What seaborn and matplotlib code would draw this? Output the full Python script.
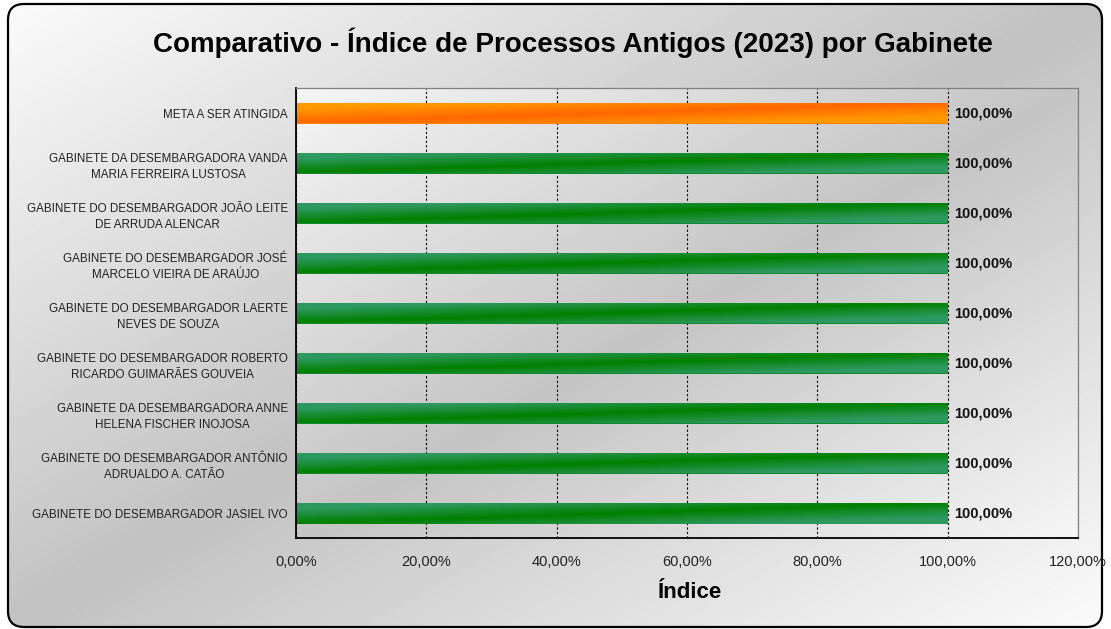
import numpy as np
import pandas as pd
import matplotlib
matplotlib.use("Agg")
import matplotlib.pyplot as plt
from matplotlib.patches import FancyBboxPatch
from matplotlib.ticker import FixedLocator
import seaborn as sns

# ── Data ─────────────────────────────────────────────────────────────────────
categories = [
    "META A SER ATINGIDA",
    "GABINETE DA DESEMBARGADORA VANDA\nMARIA FERREIRA LUSTOSA",
    "GABINETE DO DESEMBARGADOR JOÃO LEITE\nDE ARRUDA ALENCAR",
    "GABINETE DO DESEMBARGADOR JOSÉ\nMARCELO VIEIRA DE ARAÚJO",
    "GABINETE DO DESEMBARGADOR LAERTE\nNEVES DE SOUZA",
    "GABINETE DO DESEMBARGADOR ROBERTO\nRICARDO GUIMARÃES GOUVEIA",
    "GABINETE DA DESEMBARGADORA ANNE\nHELENA FISCHER INOJOSA",
    "GABINETE DO DESEMBARGADOR ANTÔNIO\nADRUALDO A. CATÃO",
    "GABINETE DO DESEMBARGADOR JASIEL IVO",
]
values = [100, 100, 100, 100, 100, 100, 100, 100, 100]
x_ticks = [0, 20, 40, 60, 80, 100, 120]
x_tick_labels = ["0,00%", "20,00%", "40,00%", "60,00%", "80,00%", "100,00%", "120,00%"]

title = "Comparativo - Índice de Processos Antigos (2023) por Gabinete"
x_label = "Índice"

df = pd.DataFrame({"Gabinete": categories, "Indice": values})

# ── Style ────────────────────────────────────────────────────────────────────
sns.set_style("white")
plt.rcParams["font.family"] = ["Liberation Sans", "DejaVu Sans"]

W, H = 1111, 629
fig = plt.figure(figsize=(W / 100, H / 100), dpi=100)
fig.patch.set_facecolor("white")

# background (pixel coordinates, y up)
bg = fig.add_axes([0, 0, 1, 1], zorder=-10)
bg.set_xlim(0, W)
bg.set_ylim(0, H)
bg.axis("off")

u, v = np.meshgrid(np.linspace(0, 1, 300), np.linspace(0, 1, 200))
fig_grad = 0.76 + 0.22 * np.abs(u + v - 1)
frame = FancyBboxPatch((8, 2), 1094, 623, boxstyle="round,pad=0,rounding_size=16",
                       facecolor="none", edgecolor="black", linewidth=1.6, zorder=3)
bg.add_patch(frame)
im = bg.imshow(fig_grad, cmap="gray", vmin=0, vmax=1, extent=(8, 1102, 2, 625),
               origin="upper", aspect="auto", zorder=1)
im.set_clip_path(frame)

# plot area gradient
pl, pr, pb, pt = 296, 1078, 91, 541
plot_grad = 0.77 + 0.19 * np.abs(u + v - 1)
bg.imshow(plot_grad, cmap="gray", vmin=0, vmax=1, extent=(pl, pr, pb, pt),
          origin="upper", aspect="auto", zorder=2)

# ── Chart ────────────────────────────────────────────────────────────────────
ax = fig.add_axes([pl / W, pb / H, (pr - pl) / W, (pt - pb) / H])
ax.patch.set_alpha(0)

palette = ["#ff7f00"] + ["#108a30"] * (len(categories) - 1)
sns.barplot(data=df, x="Indice", y="Gabinete", hue="Gabinete", palette=palette,
            orient="h", width=0.42, legend=False, ax=ax, saturation=1)

# gradient fill for bars
uu, vv = np.meshgrid(np.linspace(0, 1, 400), np.linspace(0, 1, 40))
t = np.clip(np.abs(vv - (1 - uu)) / 0.7, 0, 1)[..., None]
green_dark, green_light = np.array([0.0, 0.50, 0.0]), np.array([0.18, 0.60, 0.38])
orange_dark, orange_light = np.array([1.0, 0.40, 0.0]), np.array([1.0, 0.60, 0.0])
for i, patch in enumerate(ax.patches):
    dark, light = (orange_dark, orange_light) if i == 0 else (green_dark, green_light)
    rgb = dark + (light - dark) * t
    x0, y0 = patch.get_x(), patch.get_y()
    w, h = patch.get_width(), patch.get_height()
    bim = ax.imshow(rgb, extent=(x0, x0 + w, y0 + h, y0), origin="upper",
                    aspect="auto", zorder=patch.get_zorder() + 0.1)
    bim.set_clip_path(patch)
    patch.set_edgecolor("none")

ax.set_xlim(0, 120)
ax.set_ylim(len(categories) - 0.5, -0.5)

# value labels
for cont, val in zip(ax.containers, values):
    ax.bar_label(cont, labels=[f"{val:.2f}".replace(".", ",") + "%"], padding=4.5,
                 fontsize=10.5, fontweight="bold", color="#111111")

# axes styling
ax.set_xticks(x_ticks)
ax.set_xticklabels(x_tick_labels, fontsize=10.5, color="#222222")
ax.tick_params(axis="x", direction="out", length=5, width=1, color="black", pad=7)
ax.tick_params(axis="y", which="major", length=0, pad=6)
ax.yaxis.set_minor_locator(FixedLocator(np.arange(0.5, len(categories) - 0.5, 1)))
ax.tick_params(axis="y", which="minor", direction="out", length=4, width=1, color="black")
for lbl in ax.get_yticklabels():
    lbl.set_fontsize(8.4)
    lbl.set_multialignment("center")
    lbl.set_linespacing(1.45)
    lbl.set_color("#222222")

ax.grid(axis="x", color="black", linestyle=(0, (2, 2)), linewidth=0.8)
ax.grid(axis="y", visible=False)
ax.set_axisbelow(True)

ax.spines["left"].set_color("black")
ax.spines["left"].set_linewidth(1.3)
ax.spines["bottom"].set_color("black")
ax.spines["bottom"].set_linewidth(1.3)
ax.spines["top"].set_color("#808080")
ax.spines["right"].set_color("#808080")
ax.spines["top"].set_linewidth(0.9)
ax.spines["right"].set_linewidth(0.9)

ax.set_xlabel("")
ax.set_ylabel("")

fig.text(573 / W, 1 - 43 / H, title, ha="center", va="center",
         fontsize=20, fontweight="bold", color="black")
fig.text(690 / W, 1 - 592 / H, x_label, ha="center", va="center",
         fontsize=16, fontweight="bold", color="black")

fig.savefig("out.png", dpi=100)
